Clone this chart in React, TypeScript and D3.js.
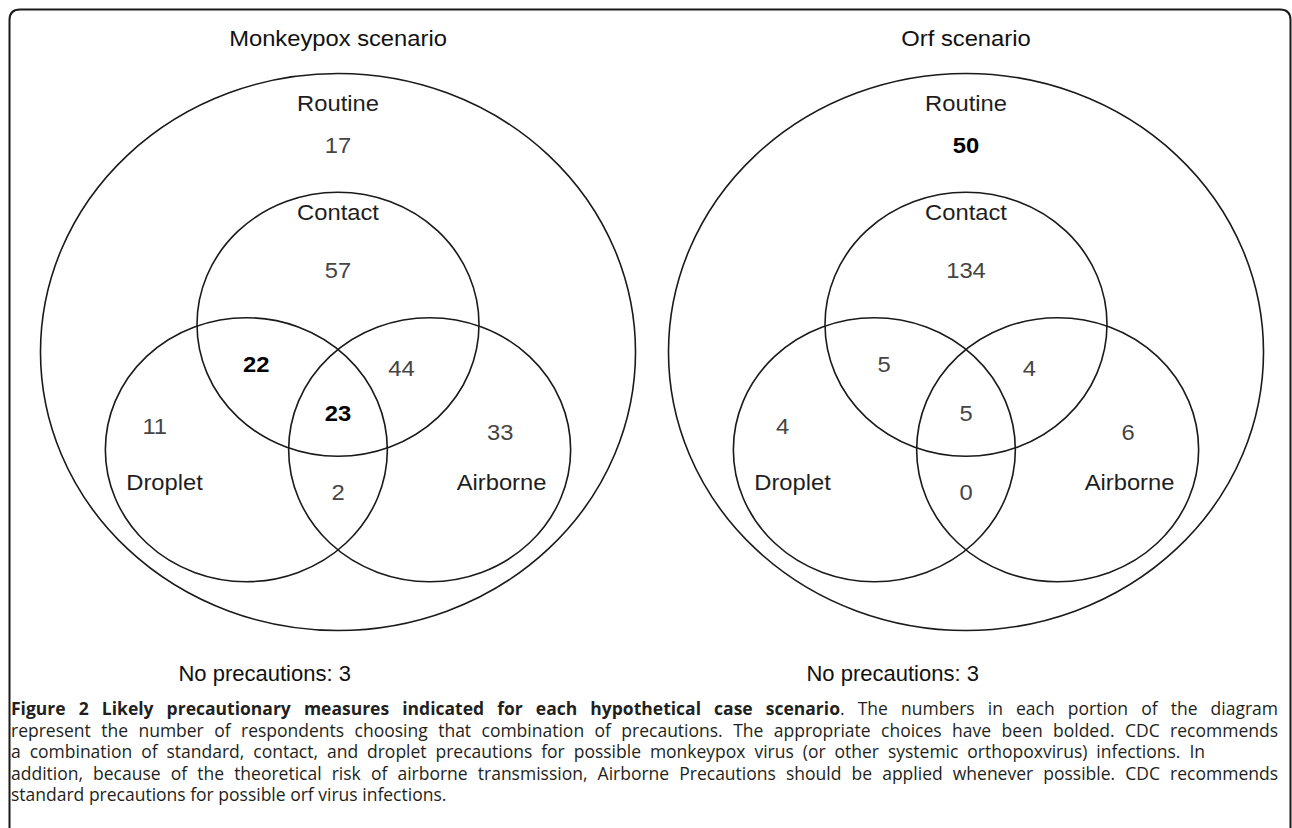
import { useRef, useEffect } from 'react';
import * as d3 from 'd3';

const W = 1292;
const H = 828;

const scenarios = ['Monkeypox scenario', 'Orf scenario'];
const outerSet = 'Routine';
const innerSets = ['Contact', 'Droplet', 'Airborne'];
// regions: routine only, contact only, contact+droplet, contact+airborne, all three, droplet only, airborne only, droplet+airborne
const regionKeys = ['routine', 'contact', 'contactDroplet', 'contactAirborne', 'all', 'droplet', 'airborne', 'dropletAirborne'];
const monkeypoxCounts = [17, 57, 22, 44, 23, 11, 33, 2];
const orfCounts = [50, 134, 5, 4, 5, 4, 6, 0];
const monkeypoxBold = [false, false, true, false, true, false, false, false];
const orfBold = [true, false, false, false, false, false, false, false];
const noPrecautions = [3, 3];

const captionLines = [
  '**Figure 2 Likely precautionary measures indicated for each hypothetical case scenario**. The numbers in each portion of the diagram',
  'represent the number of respondents choosing that combination of precautions. The appropriate choices have been bolded. CDC recommends',
  'a combination of standard, contact, and droplet precautions for possible monkeypox virus (or other systemic orthopoxvirus) infections. In',
  'addition, because of the theoretical risk of airborne transmission, Airborne Precautions should be applied whenever possible. CDC recommends',
  'standard precautions for possible orf virus infections.',
];
// right edge each caption line is spread to (null = natural spacing)
const captionRight = [1278, 1278, 1205, 1278, null];

// venn geometry, in units of one inner circle radius
const outerR = 2.11;
const circleCenters = [
  [0, -0.21],
  [-0.65, 0.74],
  [0.65, 0.74],
];
const setLabelPos = [
  [0, -1.0],
  [-1.23, 1.045],
  [1.16, 1.045],
];
const outerLabelPos = [0, -1.826];
const regionPos = [
  [0, -1.51],
  [0, -0.56],
  [-0.58, 0.15],
  [0.45, 0.18],
  [0, 0.52],
  [-1.3, 0.62],
  [1.15, 0.67],
  [0, 1.12],
];
const noPrecautionsPos = [-0.52, 2.49];

const FONT = "'Liberation Sans', Arial, sans-serif";
const STRETCH = 1.08;

export default function App() {
  const svgRef = useRef<SVGSVGElement>(null);

  useEffect(() => {
    const svg = d3.select(svgRef.current);
    svg.selectAll('*').remove();

    svg.append('rect').attr('width', W).attr('height', H).attr('fill', '#fff');

    // frame, open at the bottom
    svg
      .append('path')
      .attr('d', 'M9.5,828 V20 Q9.5,9.5 20,9.5 H1280 Q1290.5,9.5 1290.5,20 V828')
      .attr('fill', 'none')
      .attr('stroke', '#1a1a1a')
      .attr('stroke-width', 2);

    const panelX = d3.scalePoint<string>().domain(scenarios).range([338, 966]);
    const cy = 352;

    const putText = (
      g: d3.Selection<SVGGElement, unknown, null, undefined>,
      x: number,
      y: number,
      txt: string,
      opts: { size?: number; weight?: string; fill?: string; stretch?: number } = {},
    ) =>
      g
        .append('text')
        .attr('transform', `translate(${x},${y}) scale(${opts.stretch ?? STRETCH},1)`)
        .attr('text-anchor', 'middle')
        .attr('font-family', FONT)
        .attr('font-size', opts.size ?? 22)
        .attr('font-weight', opts.weight ?? 'normal')
        .attr('fill', opts.fill ?? '#1e1e1e')
        .text(txt);

    scenarios.forEach((s, i) => {
      const cx = panelX(s) as number;
      const sx = d3.scaleLinear().domain([-1, 1]).range([cx - 141, cx + 141]);
      const sy = d3.scaleLinear().domain([-1, 1]).range([cy - 132, cy + 132]);
      const rx = (r: number) => sx(r) - sx(0);
      const ry = (r: number) => sy(r) - sy(0);
      const counts = i === 0 ? monkeypoxCounts : orfCounts;
      const bold = i === 0 ? monkeypoxBold : orfBold;

      const g = svg.append('g');

      g.append('ellipse')
        .attr('cx', sx(0))
        .attr('cy', sy(0))
        .attr('rx', rx(outerR))
        .attr('ry', ry(outerR))
        .attr('fill', 'none')
        .attr('stroke', '#1a1a1a')
        .attr('stroke-width', 1.6);

      g.selectAll('ellipse.set')
        .data(circleCenters)
        .join('ellipse')
        .attr('class', 'set')
        .attr('cx', (d) => sx(d[0]))
        .attr('cy', (d) => sy(d[1]))
        .attr('rx', rx(1))
        .attr('ry', ry(1))
        .attr('fill', 'none')
        .attr('stroke', '#1a1a1a')
        .attr('stroke-width', 1.6);

      putText(g, cx, 46, s, { fill: '#111' });
      putText(g, sx(outerLabelPos[0]), sy(outerLabelPos[1]), outerSet);
      innerSets.forEach((name, k) => {
        putText(g, sx(setLabelPos[k][0]), sy(setLabelPos[k][1]), name);
      });
      regionKeys.forEach((_k, r) => {
        putText(g, sx(regionPos[r][0]), sy(regionPos[r][1]), String(counts[r]), {
          weight: bold[r] ? 'bold' : 'normal',
          fill: bold[r] ? '#000' : '#454545',
        });
      });
      putText(
        g,
        sx(noPrecautionsPos[0]),
        sy(noPrecautionsPos[1]),
        `No precautions: ${noPrecautions[i]}`,
        { fill: '#111', stretch: 1 },
      );
    });

    // caption, spread by hand
    const capX = 11;
    const capFont = "'Open Sans', 'Noto Sans', sans-serif";
    const capSize = 17.5;
    const lineY = d3.scaleLinear().domain([0, 1]).range([715, 736.5]);
    const cap = svg.append('g');

    captionLines.forEach((line, li) => {
      let isBold = false;
      const words = line.split(' ').map((w) => {
        const parts: { t: string; b: boolean }[] = [];
        w.split('**').forEach((p, pi) => {
          if (pi > 0) isBold = !isBold;
          if (p) parts.push({ t: p, b: isBold });
        });
        return parts;
      });
      const nodes = words.map((parts) => {
        const t = cap
          .append('text')
          .attr('y', lineY(li))
          .attr('font-family', capFont)
          .attr('font-size', capSize)
          .attr('fill', '#231f20');
        parts.forEach((p) =>
          t.append('tspan').attr('font-weight', p.b ? 'bold' : 'normal').text(p.t),
        );
        return t;
      });
      const widths = nodes.map((n) => (n.node() as SVGTextElement).getComputedTextLength());
      const space = capSize * 0.26;
      const total = d3.sum(widths);
      const right = captionRight[li];
      const gap =
        right != null && nodes.length > 1
          ? Math.max(space, (right - capX - total) / (nodes.length - 1))
          : space;
      let x = capX;
      nodes.forEach((n, k) => {
        n.attr('x', x);
        x += widths[k] + gap;
      });
    });
  }, []);

  return (
    <svg
      ref={svgRef}
      width={W}
      height={H}
      viewBox={`0 0 ${W} ${H}`}
      style={{ position: 'absolute', left: 0, top: 0, display: 'block' }}
    />
  );
}
